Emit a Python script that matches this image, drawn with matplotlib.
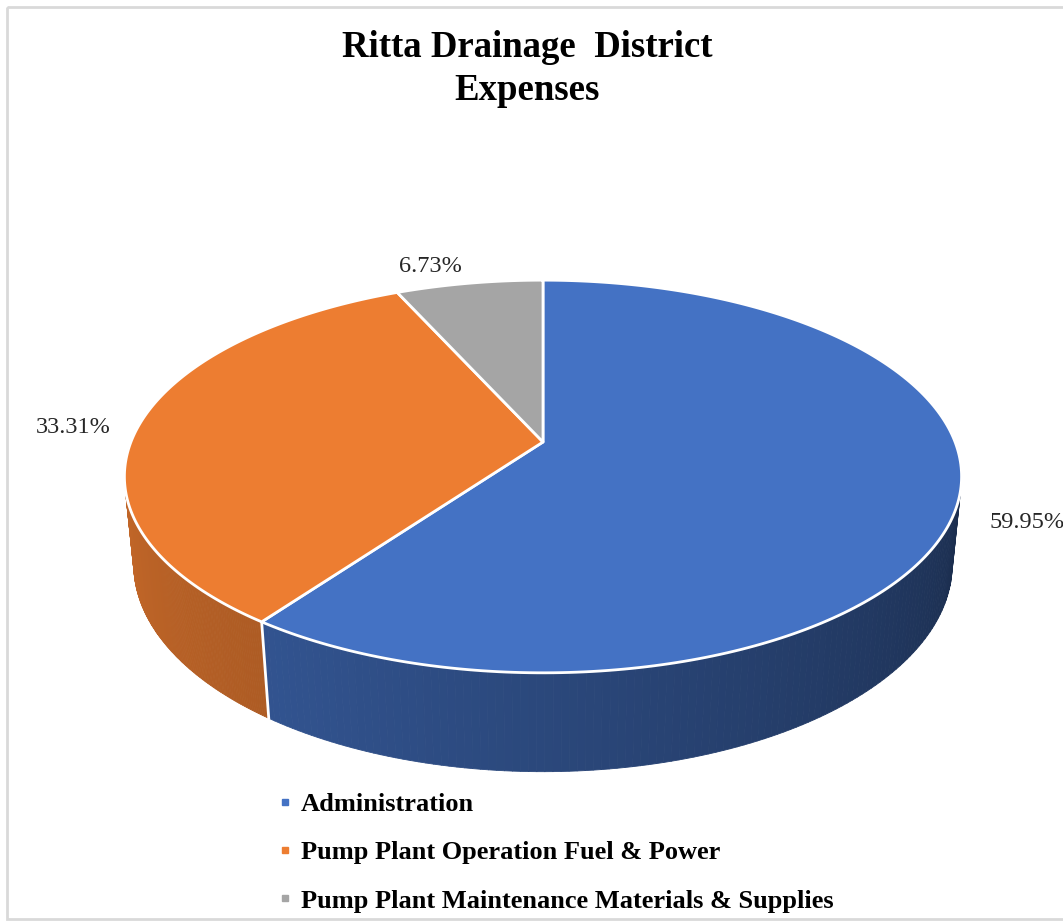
import numpy as np
import matplotlib.pyplot as plt
from matplotlib.patches import Polygon, Rectangle
from matplotlib.collections import PolyCollection
from matplotlib.lines import Line2D
from matplotlib.colors import to_rgb

plt.rcParams['font.family'] = 'Liberation Serif'

categories = ["Administration",
              "Pump Plant Operation Fuel & Power",
              "Pump Plant Maintenance Materials & Supplies"]
shares = [59.95, 33.31, 6.73]
colors = ['#4472C4', '#ED7D31', '#A5A5A5']

# perspective camera for the 3d pie (pixel space)
cx, cy = 543, 442
F, D = 2081.0, 5.05
phi = np.radians(27.5)
h = 0.243
sp, cp = np.sin(phi), np.cos(phi)


def proj(x, y, z):
    depth = D + y * cp - z * sp
    return cx + F * x / depth, cy - F * (y * sp + z * cp) / depth


def shade(t):
    return np.interp(t, [193, 240, 347], [0.82, 0.72, 0.40])


frac = np.array(shares) / np.sum(shares)
cum = np.concatenate([[0], np.cumsum(frac)])
start_deg = 90 - cum[:-1] * 360
end_deg = 90 - cum[1:] * 360

fig = plt.figure(figsize=(10.63, 9.21), dpi=100)
ax = fig.add_axes([0, 0, 1, 1])
ax.set_xlim(0, 1063)
ax.set_ylim(921, 0)
ax.axis('off')

# visible part of the side wall
tv = np.degrees(np.arcsin(-1 / (D * cp)))
v0, v1 = 180 - tv, 360 + tv

for i in range(len(shares)):
    lo, hi = end_deg[i], start_deg[i]
    base = np.array(to_rgb(colors[i]))
    for k in (-1, 0, 1):
        a = max(lo + 360 * k, v0)
        b = min(hi + 360 * k, v1)
        if a >= b:
            continue
        ts = np.linspace(a, b, 120)
        rad = np.radians(ts)
        xt, yt = proj(np.cos(rad), np.sin(rad), 0)
        xb, yb = proj(np.cos(rad), np.sin(rad), -h)
        quads, fcs = [], []
        for j in range(len(ts) - 1):
            quads.append([(xt[j], yt[j]), (xt[j + 1], yt[j + 1]),
                          (xb[j + 1], yb[j + 1]), (xb[j], yb[j])])
            fcs.append(np.clip(base * shade((ts[j] + ts[j + 1]) / 2), 0, 1))
        ax.add_collection(PolyCollection(quads, facecolors=fcs, edgecolors=fcs,
                                         linewidths=0.6, zorder=2))
    # white seam on the side
    sd = start_deg[i] % 360
    if v0 < sd < v1:
        r = np.radians(sd)
        x1, y1 = proj(np.cos(r), np.sin(r), 0)
        x2, y2 = proj(np.cos(r), np.sin(r), -h)
        ax.plot([x1, x2], [y1, y2], color='white', lw=2, zorder=2.5)

# top faces
for i in range(len(shares)):
    ts = np.radians(np.linspace(start_deg[i], end_deg[i], 240))
    xs, ys = proj(np.cos(ts), np.sin(ts), 0)
    vx, vy = proj(0, 0, 0)
    pts = np.column_stack([np.r_[vx, xs], np.r_[vy, ys]])
    ax.add_patch(Polygon(pts, closed=True, facecolor=colors[i],
                         edgecolor='white', lw=2, joinstyle='round', zorder=3))

# data labels (small pixel nudges like Excel's label placement)
nudge = [(3, 9), (-8, 7), (-30, 3)]
for i, v in enumerate(shares):
    m = np.radians((start_deg[i] + end_deg[i]) / 2)
    lx, ly = proj(1.15 * np.cos(m), 1.15 * np.sin(m), 0)
    ax.text(lx + nudge[i][0], ly + nudge[i][1], f"{v:.2f}%", ha='center',
            va='center', fontsize=17.5, color='#262626', zorder=5, clip_on=False)

ax.text(527, 57, "Ritta Drainage  District", ha='center', va='baseline',
        fontsize=26.5, fontweight='bold', color='black')
ax.text(527, 100, "Expenses", ha='center', va='baseline',
        fontsize=26.5, fontweight='bold', color='black')

handles = [Line2D([], [], marker='s', ls='', color=c, markersize=5) for c in colors]
fig.legend(handles, categories, loc='upper left',
           bbox_to_anchor=(277 / 1063, 1 - 793 / 921), frameon=False,
           prop={'weight': 'bold', 'size': 19}, handlelength=0.6,
           handletextpad=0.3, labelspacing=0.93, borderaxespad=0, borderpad=0)

ax.add_patch(Rectangle((7, 7), 1100, 912, fill=False, edgecolor='#D9D9D9',
                       lw=2, clip_on=False, zorder=1))

fig.savefig("out.png", dpi=100)
